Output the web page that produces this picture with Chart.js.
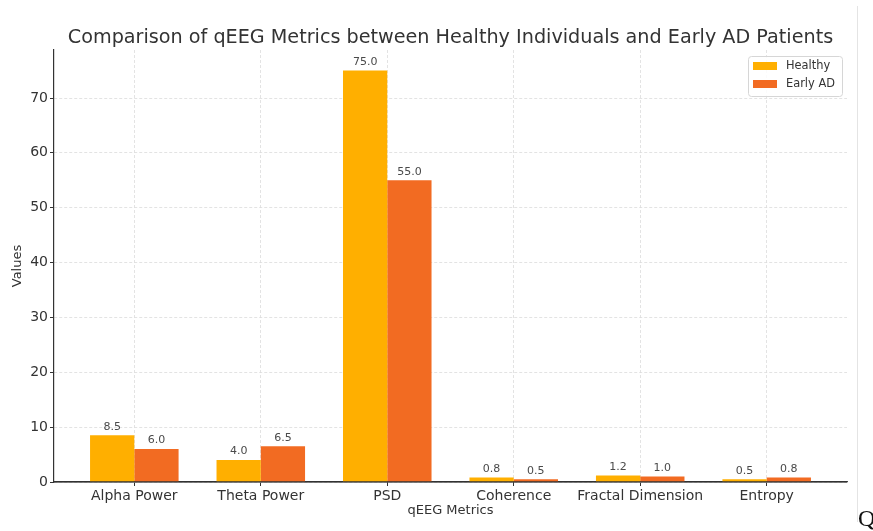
<!DOCTYPE html>
<html>
<head>
<meta charset="utf-8">
<script src="https://cdn.jsdelivr.net/npm/chart.js@4"></script>
<style>
  html, body { margin: 0; padding: 0; background: #fff; }
  #wrap { position: relative; width: 873px; height: 531px; overflow: hidden; }
  #edge { position: absolute; left: 857px; top: 6px; width: 0; height: 516px; border-left: 1px solid #e4e4e4; }
  #q { position: absolute; left: 858px; top: 505px; font-family: "Liberation Serif", "DejaVu Serif", serif; font-size: 24px; color: #111; }
</style>
</head>
<body>
<div id="wrap">
  <canvas id="chart" width="873" height="531"></canvas>
  <div id="edge"></div>
  <div id="q">Q</div>
</div>
<script>
const categories = ['Alpha Power', 'Theta Power', 'PSD', 'Coherence', 'Fractal Dimension', 'Entropy'];
const healthy = [8.5, 4.0, 75.0, 0.8, 1.2, 0.5];
const earlyAD = [6.0, 6.5, 55.0, 0.5, 1.0, 0.8];
const yTicks = [0, 10, 20, 30, 40, 50, 60, 70];

const FONT = '"DejaVu Sans", sans-serif';
const INK = '#333333';

// Value labels above every bar
const barValueLabels = {
  id: 'barValueLabels',
  afterDatasetsDraw(chart) {
    const ctx = chart.ctx;
    ctx.save();
    ctx.font = '11px ' + FONT;
    ctx.fillStyle = '#4a4a4a';
    ctx.textAlign = 'center';
    ctx.textBaseline = 'bottom';
    chart.data.datasets.forEach((ds, di) => {
      chart.getDatasetMeta(di).data.forEach((bar, i) => {
        const v = ds.data[i].y;
        ctx.fillText(v.toFixed(1), bar.x, bar.y - 3);
      });
    });
    ctx.restore();
  }
};

// Axis line on top of the bars, legend box in the upper right of the plot
const overlay = {
  id: 'overlay',
  afterDatasetsDraw(chart) {
    const { ctx, chartArea: a } = chart;
    ctx.save();
    ctx.strokeStyle = INK;
    ctx.lineWidth = 1.2;
    ctx.beginPath();
    ctx.moveTo(a.left, a.bottom);
    ctx.lineTo(a.right, a.bottom);
    ctx.stroke();

    // legend
    const bx = a.right - 99, by = a.top + 6, bw = 94, bh = 40;
    ctx.fillStyle = 'rgba(255,255,255,0.85)';
    ctx.strokeStyle = '#d6d6d6';
    ctx.lineWidth = 1;
    ctx.beginPath();
    ctx.roundRect(bx + 0.5, by + 0.5, bw, bh, 3);
    ctx.fill();
    ctx.stroke();
    ctx.font = '11.4px ' + FONT;
    ctx.textBaseline = 'middle';
    ctx.textAlign = 'left';
    chart.data.datasets.forEach((ds, i) => {
      const cy = by + 10 + i * 18;
      ctx.fillStyle = ds.backgroundColor;
      ctx.fillRect(bx + 5, cy - 4, 24, 8);
      ctx.fillStyle = INK;
      ctx.fillText(ds.label, bx + 38, cy + 0.5);
    });
    ctx.restore();
  }
};

const toPoints = arr => arr.map((y, i) => ({ x: i, y }));

new Chart(document.getElementById('chart'), {
  type: 'bar',
  data: {
    datasets: [
      { label: 'Healthy', data: toPoints(healthy), backgroundColor: '#FFAF00', borderWidth: 0 },
      { label: 'Early AD', data: toPoints(earlyAD), backgroundColor: '#F26B22', borderWidth: 0 }
    ]
  },
  options: {
    responsive: false,
    animation: false,
    categoryPercentage: 0.7,
    barPercentage: 1.0,
    layout: { padding: { left: 0, right: 26, top: 0, bottom: 0 } },
    plugins: {
      legend: { display: false },
      tooltip: { enabled: false },
      title: {
        display: true,
        fullSize: false,
        text: 'Comparison of qEEG Metrics between Healthy Individuals and Early AD Patients',
        color: INK,
        font: { family: FONT, size: 19.2, weight: 'normal', lineHeight: 1.2 },
        padding: { top: 26, bottom: 0.96 }
      }
    },
    scales: {
      x: {
        type: 'linear',
        min: -0.635,
        max: 5.635,
        offset: false,
        afterBuildTicks: s => { s.ticks = categories.map((_, i) => ({ value: i })); },
        afterFit: s => { s.height = 49; },
        ticks: {
          callback: v => categories[v] ?? '',
          color: INK,
          font: { family: FONT, size: 14 },
          padding: 2,
          maxRotation: 0,
          autoSkip: false
        },
        grid: { offset: false, color: '#dcdcdc', lineWidth: 0.8, drawTicks: true, tickLength: 4, tickColor: INK, tickWidth: 1 },
        border: { display: true, color: INK, width: 1.2, dash: [3, 2] },
        title: {
          display: true,
          text: 'qEEG Metrics',
          color: INK,
          font: { family: FONT, size: 13 },
          padding: { top: 0, bottom: 13 }
        }
      },
      y: {
        min: 0,
        max: 78.75,
        afterBuildTicks: s => { s.ticks = yTicks.map(v => ({ value: v })); },
        afterFit: s => { s.width = 54; },
        ticks: {
          color: INK,
          font: { family: FONT, size: 14 },
          padding: 2
        },
        grid: { color: '#dcdcdc', lineWidth: 0.8, drawTicks: true, tickLength: 4, tickColor: INK, tickWidth: 1 },
        border: { display: true, color: INK, width: 1.2, dash: [3, 2] },
        title: {
          display: true,
          text: 'Values',
          color: INK,
          font: { family: FONT, size: 13 },
          padding: { top: 10, bottom: 0 }
        }
      }
    }
  },
  plugins: [barValueLabels, overlay]
});
</script>
</body>
</html>
